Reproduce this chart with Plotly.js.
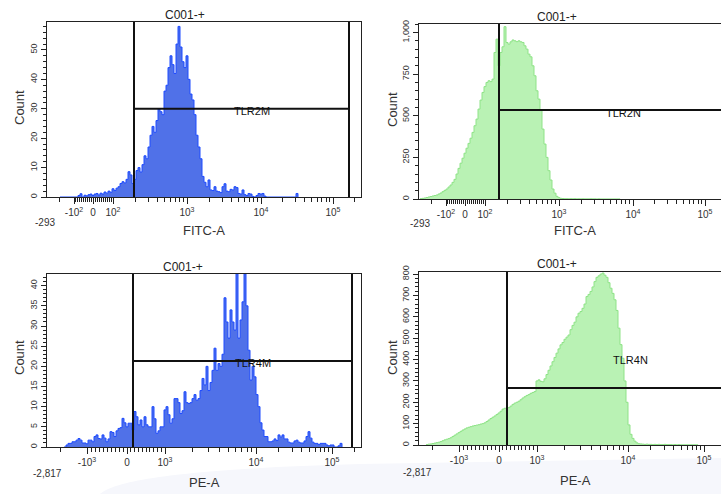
<!DOCTYPE html>
<html><head><meta charset="utf-8">
<script src="https://cdn.plot.ly/plotly-3.0.1.min.js"></script>
<style>html,body{margin:0;padding:0;background:#fff}#chart{width:721px;height:494px}</style>
</head><body><div id="chart"></div>
<script>
// ---------------- data ----------------
const panelTitles = ["C001-+", "C001-+", "C001-+", "C001-+"];
const xAxisTitles = ["FITC-A", "FITC-A", "PE-A", "PE-A"];
const yAxisTitle = "Count";
const gateNames = ["TLR2M", "TLR2N", "TLR4M", "TLR4N"];
const axisMinLabels = ["-293", "-293", "-2,817", "-2,817"];

// display-channel positions of the decade ticks (biexponential display)
const fitcTickValues = [-100, 0, 100, 1000, 10000, 100000];
const fitcTickText = ["-10<sup>2</sup>", "0", "10<sup>2</sup>", "10<sup>3</sup>", "10<sup>4</sup>", "10<sup>5</sup>"];
const fitcAnchorValues = [-200, -100, 0, 100, 1000, 10000, 100000, 1000000];
const fitcAnchorChannels = [12, 27, 46, 66, 140, 214, 286, 358];
const peTickValues = [-1000, 0, 1000, 10000, 100000];
const peTickText = ["-10<sup>3</sup>", "0", "10<sup>3</sup>", "10<sup>4</sup>", "10<sup>5</sup>"];
const peAnchorValues = [-2000, -1000, 0, 1000, 10000, 100000, 1000000];
const peAnchorChannels = [13, 40, 80, 118, 209, 285, 361];

// histograms: counts per 2-channel bin
const binWidth = 2;
const tlr2mStart = 13;
const tlr2mCounts = [0,0,0,0,0,0,0,0,0,0.5,1.1,0,0.6,0.4,0.8,1,0.5,1,1.2,0.7,1.3,1.0,1.7,1.3,2,1.6,2.8,2.2,3,3.5,4.6,5.2,4.8,6,8.6,7.5,4.6,6,9,10,8.5,11,14,13,17,21,24,22,26,30,29,28,36,38,44,48,45,42,52,58,51,46,44,48,40,35,33,28,21,17,13,7,5,3.5,5.8,2.4,2.2,3.5,2,1.8,1.5,3.5,4.5,2,1.8,2.6,2.4,3.5,3.2,1.2,1.0,2.4,0.8,0.5,1.2,1.0,0.2,0,0.5,1.2,1.0,1.2,0.3,0,0,0,0,0,0,0,0,0,0,0,0,0,0,0,1.2,0];
const tlr2nStart = 1;
const tlr2nCounts = [2,4,6,9,12,15,18,21,24,30,36,44,52,60,72,84,100,118,150,184,215,245,275,305,334,365,400,440,480,540,594,640,675,700,710,705,720,880,960,800,880,914,1035,940,930,944,955,950,945,950,944,940,920,900,870,854,800,740,650,600,534,420,330,250,170,114,60,35,16,8,4,3,2,2,1.5,2,1.5,2,1,1.5,1,1.5,1,1,1,1.5,1,1,0.5,1,0.5,0.5,0.5,0.5,0.5,0.5,0.5,0.5,0.5,0.5,0];
const tlr4mStart = 17;
const tlr4mCounts = [0,0.5,0.9,0.9,1.3,1.3,1.7,2.1,1.7,1.0,1.0,0.8,1.7,1.7,1.3,2.6,3.0,2.1,2.0,3.0,2.2,1.3,2.0,3.8,3.6,2.6,4.0,4.6,4.8,7.1,6.0,5.0,5.9,5.9,4.2,8.8,7.5,5.5,6.7,5.0,7.5,5.5,5.0,5.0,10,7,3.4,4,5,5,9.2,10,8,5.9,7,12,12,11,8.3,9,13.7,11,10.8,11,12,13,11.6,12,14,17,15.4,20,14,16,19,24.5,19,20.7,20,23,37,31,27,34,31,29,43,27,31.5,36,43,35,24,16.6,20,17.4,13,10,6,4.2,2.6,2.6,1.3,1.3,1.5,2,1.6,3,2.5,3,2,2,1.2,1,1,1.5,1.7,1.2,1,1,1.5,2.6,3.8,2.2,1.2,0.9,0.9,0.6,0.9,0.9,0.9,0.5,0.3,0.5,0.5,0,0,0.3,0.9,0];
const tlr4nStart = 7;
const tlr4nCounts = [2,4,5,7,9,11,13,16,20,24,27,30,34,40,46,52,58,64,70,75,80,83,86,89,91,93,95,98,100,104,110,117,124,130,136,143,150,158,168,172,172,175,182,190,196,200,205,212,220,226,232,236,242,246,250,300,305,298,296,310,330,350,370,390,410,430,450,469,480,495,505,515,540,560,575,600,617,625,640,660,695,705,719,740,765,785,792,800,805,795,785,760,734,710,680,630,547,470,406,300,200,94,50,31,18,10,6,5,4,3,4,3,3,2,3,2,3,2,2,3,2,2,2,1,2,1,2,1,1,1,1,1,1,1,1,1,0];

// gates (display channels / counts)
const gateLeft = [87, 80, 86, 88];
const gateRight = [302, null, 305, null];
const gateLevel = [30, 535, 21.3, 267];

// y axes
const yMax = [59.5, 1051, 42.9, 810];
const yTickStep = [10, 250, 5, 100];
const yMinorStep = [2, 50, 1, 20];

// ---------------- layout helpers ----------------
const W = 721, H = 494;
const boxes = [[47, 22, 361, 197], [419, 24, 721, 199], [47, 274, 361, 447], [419, 272, 721, 445]];
const fills = ["#5071e8", "#b9f2b4", "#5071e8", "#b9f2b4"];
const lines = ["#1f4cff", "#8fe388", "#1f4cff", "#8fe388"];
const counts = [tlr2mCounts, tlr2nCounts, tlr4mCounts, tlr4nCounts];
const starts = [tlr2mStart, tlr2nStart, tlr4mStart, tlr4nStart];
const FONT = "Liberation Sans, Arial, sans-serif";

function makeScale(vals, chans) {
  return v => {
    let i = 0;
    while (i < vals.length - 2 && v > vals[i + 1]) i++;
    const v0 = vals[i], v1 = vals[i + 1], c0 = chans[i], c1 = chans[i + 1];
    if (v0 > 0) return c0 + (c1 - c0) * Math.log10(v / v0) / Math.log10(v1 / v0);
    return c0 + (c1 - c0) * (v - v0) / (v1 - v0);
  };
}
const fitcScale = makeScale(fitcAnchorValues, fitcAnchorChannels);
const peScale = makeScale(peAnchorValues, peAnchorChannels);

function minorValues(linLimit) {
  const out = [-2 * linLimit];
  for (let k = 1; k <= 9; k++) { out.push(-k * linLimit / 10); out.push(k * linLimit / 10); }
  for (let d = linLimit; d <= 100000; d *= 10) for (let m = 2; m <= 9; m++) out.push(m * d);
  return out;
}

const traces = [];
const layout = {
  width: W, height: H, margin: {l: 0, r: 0, t: 0, b: 0},
  paper_bgcolor: "#ffffff", plot_bgcolor: "#ffffff",
  showlegend: false, font: {family: FONT, color: "#222"},
  annotations: [], shapes: []
};

// faint grey band at bottom of the picture
layout.shapes.push({type: "path", xref: "paper", yref: "paper", layer: "below",
  path: `M ${100/W} 0 C ${110/W} ${(H-486)/H}, ${140/W} ${(H-470)/H}, ${360/W} ${(H-464)/H} L 1 ${(H-458)/H} L 1 0 Z`,
  fillcolor: "#f6f7fc", line: {width: 0}});

for (let p = 0; p < 4; p++) {
  const [l, t, r, b] = boxes[p];
  const sfx = p === 0 ? "" : String(p + 1);
  const xa = "x" + sfx, ya = "y" + sfx;
  const xm = "x" + (p + 5);
  const isFitc = p < 2;
  const scale = isFitc ? fitcScale : peScale;
  const majV = (isFitc ? fitcTickValues : peTickValues).map(scale);
  const majT = isFitc ? fitcTickText : peTickText;
  const minV = minorValues(isFitc ? 100 : 1000).map(scale);
  const c = counts[p];
  const xs = c.map((_, i) => starts[p] + i * binWidth);
  traces.push({type: "scatter", mode: "lines", x: xs, y: c, xaxis: xa, yaxis: ya,
    line: {shape: "hv", color: lines[p], width: 1}, fill: "tozeroy", fillcolor: fills[p],
    hoverinfo: "skip"});
  // empty trace carrying the minor-tick axis
  traces.push({type: "scatter", mode: "lines", x: [], y: [], xaxis: xm, yaxis: ya, hoverinfo: "skip"});

  layout["xaxis" + sfx] = {
    domain: [l / W, r / W], range: [0, r - l], anchor: ya,
    showline: true, linecolor: "#222", linewidth: 1, mirror: true,
    ticks: "outside", ticklen: 6, tickcolor: "#222", tickwidth: 1,
    tickmode: "array", tickvals: majV, ticktext: majT,
    tickfont: {family: FONT, size: 10, color: "#333"},
    showgrid: false, zeroline: false, fixedrange: true
  };
  layout["xaxis" + (p + 5)] = {
    domain: [l / W, r / W], range: [0, r - l], anchor: ya, overlaying: xa, side: "bottom",
    showline: false, ticks: "outside", ticklen: 4, tickcolor: "#222", tickwidth: 1,
    tickmode: "array", tickvals: minV, showticklabels: false,
    showgrid: false, zeroline: false, fixedrange: true
  };
  layout["yaxis" + sfx] = {
    domain: [1 - b / H, 1 - t / H], range: [0, yMax[p]], anchor: xa,
    showline: true, linecolor: "#222", linewidth: 1, mirror: (p === 0 || p === 2),
    ticks: "outside", ticklen: 5, tickcolor: "#222",
    tickmode: "linear", tick0: 0, dtick: yTickStep[p], tickformat: ",d", tickangle: -90,
    tickfont: {family: FONT, size: 9, color: "#333"},
    minor: {tickmode: "linear", tick0: 0, dtick: yMinorStep[p], ticks: "outside", ticklen: 3, tickcolor: "#222"},
    showgrid: false, zeroline: false, fixedrange: true
  };

  // gates
  const xEnd = gateRight[p] === null ? r - l : gateRight[p];
  layout.shapes.push({type: "line", xref: xa, yref: ya + " domain", x0: gateLeft[p], x1: gateLeft[p], y0: 0, y1: 1, line: {color: "#111", width: 2}});
  if (gateRight[p] !== null)
    layout.shapes.push({type: "line", xref: xa, yref: ya + " domain", x0: gateRight[p], x1: gateRight[p], y0: 0, y1: 1, line: {color: "#111", width: 2}});
  layout.shapes.push({type: "line", xref: xa, yref: ya, x0: gateLeft[p], x1: xEnd, y0: gateLevel[p], y1: gateLevel[p], line: {color: "#111", width: 2}});

  // texts
  const titlePos = [[185, 15], [557, 17], [183, 267], [557, 264]][p];
  const xtPos = [[204, 230], [575, 230], [204, 482], [575, 480]][p];
  const ytPos = [[19, 108], [392, 110], [19, 358], [392, 358]][p];
  const minPos = [[45, 222], [420, 223], [47, 473], [417, 472]][p];
  const gatePos = [[252, 111], [623, 113], [253, 363], [630, 360]][p];
  const ann = (txt, pos, size, extra) => Object.assign({text: txt, xref: "paper", yref: "paper",
    x: pos[0] / W, y: 1 - pos[1] / H, xanchor: "center", yanchor: "middle", showarrow: false,
    font: {family: FONT, size: size, color: "#222"}}, extra || {});
  layout.annotations.push(ann(panelTitles[p], titlePos, 12));
  layout.annotations.push(ann(xAxisTitles[p], xtPos, 13, {font: {family: FONT, size: 13, color: "#333"}}));
  layout.annotations.push(ann(yAxisTitle, ytPos, 13, {textangle: -90, font: {family: FONT, size: 13, color: "#333"}}));
  layout.annotations.push(ann(axisMinLabels[p], minPos, 10, {font: {family: FONT, size: 10, color: "#333"}}));
  layout.annotations.push(ann(gateNames[p], gatePos, 11, {font: {family: FONT, size: 11, color: "#111"}}));
}

Plotly.newPlot("chart", traces, layout, {staticPlot: true, displayModeBar: false});
</script></body></html>
